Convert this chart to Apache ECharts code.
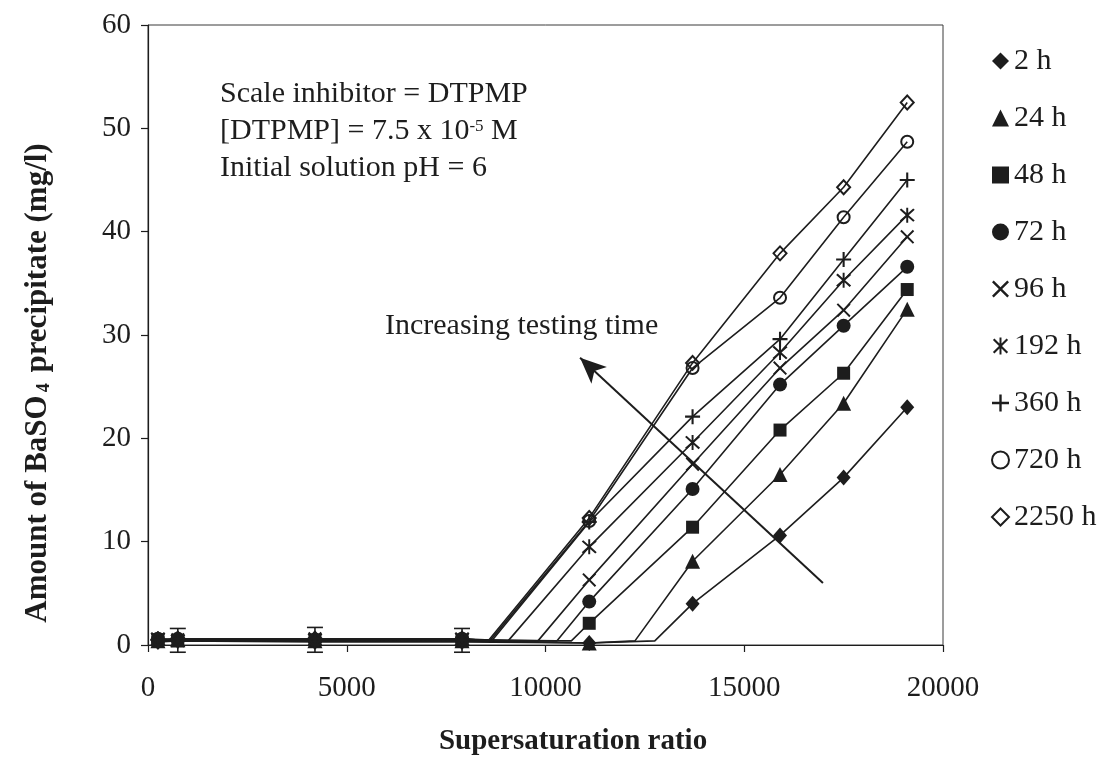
<!DOCTYPE html>
<html>
<head>
<meta charset="utf-8">
<script src="https://cdn.jsdelivr.net/npm/echarts@6/dist/echarts.min.js"></script>
<style>
  html, body { margin: 0; padding: 0; background: #fff; }
  #chart { width: 1100px; height: 772px; }
</style>
</head>
<body>
<div id="chart"></div>
<script>
// Supersaturation ratio of each sample (x) and BaSO4 precipitate (mg/l) per testing time
const ratio = [250, 750, 4200, 7900, 11100, 13700, 15900, 17500, 19100];
const seriesNames = ['2 h', '24 h', '48 h', '72 h', '96 h', '192 h', '360 h', '720 h', '2250 h'];

const amount_2h    = [0.3, 0.4, 0.3, 0.3, 0.2, 4.0, 10.6, 16.2, 23.0];
const amount_24h   = [0.4, 0.5, 0.4, 0.4, 0.2, 8.1, 16.5, 23.4, 32.5];
const amount_48h   = [0.5, 0.4, 0.5, 0.4, 2.1, 11.4, 20.8, 26.3, 34.4];
const amount_72h   = [0.4, 0.6, 0.4, 0.5, 4.2, 15.1, 25.2, 30.9, 36.6];
const amount_96h   = [0.5, 0.5, 0.6, 0.5, 6.3, 17.5, 26.8, 32.4, 39.5];
const amount_192h  = [0.6, 0.4, 0.5, 0.6, 9.5, 19.6, 28.3, 35.3, 41.6];
const amount_360h  = [0.5, 0.6, 0.6, 0.5, 11.9, 22.1, 29.6, 37.3, 45.0];
const amount_720h  = [0.6, 0.5, 0.5, 0.6, 12.0, 26.8, 33.6, 41.4, 48.7];
const amount_2250h = [0.5, 0.6, 0.6, 0.6, 12.3, 27.3, 37.9, 44.3, 52.5];

// Supersaturation ratio at which precipitation starts for each testing time
const onsetRatio  = [12750, 12250, 10650, 10290, 9810, 9060, 8650, 8600, 8560];
const onsetAmount = [0.4, 0.4, 0.4, 0.4, 0.4, 0.4, 0.4, 0.4, 0.4];

// Scatter of repeated measurements at low supersaturation
const errRatio = [750, 4200, 7900];
const errLow   = [-0.7, -0.7, -0.7];
const errHigh  = [1.6, 1.7, 1.6];

// Tick values
const xTicks = { min: 0, max: 20000, step: 5000 };
const yTicks = { min: 0, max: 60, step: 10 };

const INK = '#1d1d1d';
const SERIF = '"Liberation Serif", "Times New Roman", serif';

const X_PATH = 'path://M0,1L1,0L5,4L9,0L10,1L6,5L10,9L9,10L5,6L1,10L0,9L4,5Z';
const STAR_PATH = 'path://M0,1L1,0L5,4L9,0L10,1L6,5L10,9L9,10L5,6L1,10L0,9L4,5Z M4.35,-0.6H5.65V10.6H4.35Z';
const PLUS_PATH = 'path://M4.3,0H5.7V4.3H10V5.7H5.7V10H4.3V5.7H0V4.3H4.3Z';

const filled = { color: INK };
const hollow = { color: 'rgba(255,255,255,0)', borderColor: INK, borderWidth: 2 };

const markerStyles = [
  { symbol: 'diamond',  size: [14, 16], item: filled },
  { symbol: 'triangle', size: 15, item: filled },
  { symbol: 'rect',     size: 13, item: filled },
  { symbol: 'circle',   size: 14, item: filled },
  { symbol: X_PATH,     size: 14, item: filled },
  { symbol: STAR_PATH,  size: 15, item: filled },
  { symbol: PLUS_PATH,  size: 15, item: filled },
  { symbol: 'circle',   size: 12, item: hollow },
  { symbol: 'diamond',  size: [13, 14], item: hollow }
];
const legendIcons = ['diamond', 'triangle', 'rect', 'circle', X_PATH, STAR_PATH, PLUS_PATH, 'circle', 'diamond'];

const amounts = [amount_2h, amount_24h, amount_48h, amount_72h, amount_96h,
                 amount_192h, amount_360h, amount_720h, amount_2250h];

function buildLine(k) {
  const pts = ratio.map((x, i) => ({ value: [x, amounts[k][i]] }));
  pts.push({ value: [onsetRatio[k], onsetAmount[k]], symbol: 'none' });
  pts.sort((a, b) => a.value[0] - b.value[0]);
  return pts;
}

const series = seriesNames.map((name, k) => ({
  name,
  type: 'line',
  data: buildLine(k),
  symbol: markerStyles[k].symbol,
  symbolSize: markerStyles[k].size,
  showAllSymbol: true,
  itemStyle: markerStyles[k].item,
  lineStyle: { color: INK, width: 1.6 },
  clip: false,
  z: 3,
  emphasis: { disabled: true },
  animation: false
}));

// Arrow showing the direction of increasing testing time
series[0].markLine = {
  silent: true,
  animation: false,
  symbol: ['none', 'arrow'],
  label: { show: false },
  lineStyle: { color: INK, width: 2, type: 'solid' },
  itemStyle: { color: INK },
  emphasis: { disabled: true },
  data: [[
    { coord: [16980, 6.0], symbol: 'none' },
    { coord: [10870, 27.8], symbol: 'arrow', symbolSize: [17, 26] }
  ]]
};

series.push({
  name: 'spread',
  type: 'custom',
  clip: false,
  silent: true,
  z: 2,
  data: errRatio.map((x, i) => [x, errLow[i], errHigh[i]]),
  renderItem: (params, api) => {
    const lo = api.coord([api.value(0), api.value(1)]);
    const hi = api.coord([api.value(0), api.value(2)]);
    const cap = 8;
    const st = { stroke: INK, lineWidth: 1.6 };
    return {
      type: 'group',
      children: [
        { type: 'line', shape: { x1: lo[0], y1: lo[1], x2: hi[0], y2: hi[1] }, style: st },
        { type: 'line', shape: { x1: hi[0] - cap, y1: hi[1], x2: hi[0] + cap, y2: hi[1] }, style: st },
        { type: 'line', shape: { x1: lo[0] - cap, y1: lo[1], x2: lo[0] + cap, y2: lo[1] }, style: st }
      ]
    };
  }
});

const chart = echarts.init(document.getElementById('chart'), null, { renderer: 'canvas' });

const textFont = '30px ' + SERIF;
const xTitleFont = 'bold 29px ' + SERIF;
const yTitleFont = 'bold 31px ' + SERIF;

chart.setOption({
  animation: false,
  backgroundColor: '#fff',
  grid: {
    left: 148, right: 157, top: 25, bottom: 127,
    show: true, borderColor: '#3a3a3a', borderWidth: 1
  },
  xAxis: {
    type: 'value',
    min: xTicks.min, max: xTicks.max, interval: xTicks.step,
    axisLine: { show: true, onZero: false, lineStyle: { color: INK, width: 1.2 } },
    axisTick: { show: true, inside: false, length: 7, lineStyle: { color: INK, width: 1.2 } },
    axisLabel: { color: INK, fontFamily: SERIF, fontSize: 29, margin: 29, formatter: (v) => String(v) },
    splitLine: { show: false }
  },
  yAxis: {
    type: 'value',
    min: yTicks.min, max: yTicks.max, interval: yTicks.step,
    axisLine: { show: true, lineStyle: { color: INK, width: 1.2 } },
    axisTick: { show: true, inside: false, length: 7, lineStyle: { color: INK, width: 1.2 } },
    axisLabel: { color: INK, fontFamily: SERIF, fontSize: 29, margin: 17, formatter: (v) => String(v) },
    splitLine: { show: false }
  },
  legend: {
    orient: 'vertical',
    left: 986,
    top: 41,
    itemWidth: 17,
    itemHeight: 17,
    itemGap: 27,
    selectedMode: false,
    textStyle: { color: INK, fontFamily: SERIF, fontSize: 30, lineHeight: 30 },
    data: seriesNames.map((name, k) => ({ name, icon: legendIcons[k] }))
  },
  graphic: [
    {
      type: 'text', x: 220, y: 94, silent: true,
      style: { text: 'Scale inhibitor = DTPMP', font: textFont, fill: INK, align: 'left', verticalAlign: 'middle' }
    },
    {
      type: 'text', x: 220, y: 131, silent: true,
      style: {
        text: '[DTPMP] = 7.5 x 10{sup|-5} M', font: textFont, fill: INK, align: 'left', verticalAlign: 'middle',
        rich: { sup: { fontSize: 17, fontFamily: SERIF, fill: INK, verticalAlign: 'top', lineHeight: 17, padding: [2, 0, 0, 0] } }
      }
    },
    {
      type: 'text', x: 220, y: 168, silent: true,
      style: { text: 'Initial solution pH = 6', font: textFont, fill: INK, align: 'left', verticalAlign: 'middle' }
    },
    {
      type: 'text', x: 385, y: 326, silent: true,
      style: { text: 'Increasing testing time', font: textFont, fill: INK, align: 'left', verticalAlign: 'middle' }
    },
    {
      type: 'text', x: 573, y: 742, silent: true,
      style: { text: 'Supersaturation ratio', font: xTitleFont, fill: INK, align: 'center', verticalAlign: 'middle' }
    },
    {
      type: 'text', x: 38, y: 383, rotation: Math.PI / 2, silent: true,
      style: {
        text: 'Amount of BaSO{sub|4} precipitate (mg/l)', font: yTitleFont, fill: INK, align: 'center', verticalAlign: 'middle',
        rich: { sub: { fontSize: 18, fontWeight: 'bold', fontFamily: SERIF, fill: INK, verticalAlign: 'bottom', lineHeight: 18, padding: [0, 3, 0, 3] } }
      }
    }
  ],
  series
});
</script>
</body>
</html>
